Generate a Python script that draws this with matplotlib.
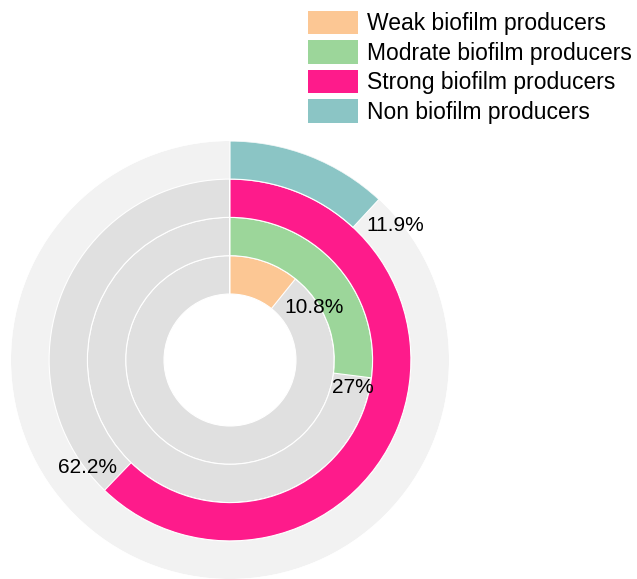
import numpy as np
import matplotlib.pyplot as plt
from matplotlib.patches import Patch

plt.rcParams['font.family'] = ['Liberation Sans', 'DejaVu Sans']

categories = ['Weak biofilm producers', 'Modrate biofilm producers',
              'Strong biofilm producers', 'Non biofilm producers']
percents = [10.8, 27, 62.2, 11.9]
colors = ['#fcc794', '#9cd69a', '#fe1b8b', '#8bc5c5']

# label placement: angle offset past the bar end (deg), radius, alignment
label_dtheta = [7.0, 8.0, 2.5, 2.6]
label_r = [76, 106, 156, 192]
label_ha = ['left', 'left', 'right', 'left']

hole = 66
ring_w = 38.3
outer = 219

fig = plt.figure(figsize=(6.37, 5.79), dpi=100)
ax = fig.add_axes([11 / 637, 0, 438 / 637, 438 / 579], projection='polar')
ax.set_theta_zero_location('N')
ax.set_theta_direction(-1)
ax.set_ylim(0, outer)
ax.axis('off')

# background tracks
ax.bar(0, outer - (hole + 3 * ring_w), width=2 * np.pi, bottom=hole + 3 * ring_w,
       align='edge', color='#f2f2f2', linewidth=0)
for i in range(3):
    ax.bar(0, ring_w, width=2 * np.pi, bottom=hole + i * ring_w, align='edge',
           color='#e0e0e0', edgecolor='white', linewidth=0.8)

for i, (p, c) in enumerate(zip(percents, colors)):
    bottom = hole + i * ring_w
    height = ring_w if i < 3 else outer - bottom
    span = np.deg2rad(p / 100 * 360)
    ax.bar(0, height, width=span, bottom=bottom, align='edge', color=c,
           edgecolor='white', linewidth=0.8)
    lbl = f'{p:g}%'
    ang = np.deg2rad(p / 100 * 360 + label_dtheta[i])
    ax.text(ang, label_r[i], lbl, ha=label_ha[i], va='center', fontsize=15)

handles = [Patch(facecolor=c, edgecolor='none') for c in colors]
fig.legend(handles, categories, loc='upper left',
           bbox_to_anchor=(303 / 637, 1 - 6 / 579),
           frameon=False, fontsize=16.5, handlelength=2.2, handleheight=1.2,
           labelspacing=0.22, handletextpad=0.38, borderaxespad=0, borderpad=0.2)

fig.savefig('out.png', dpi=100)
